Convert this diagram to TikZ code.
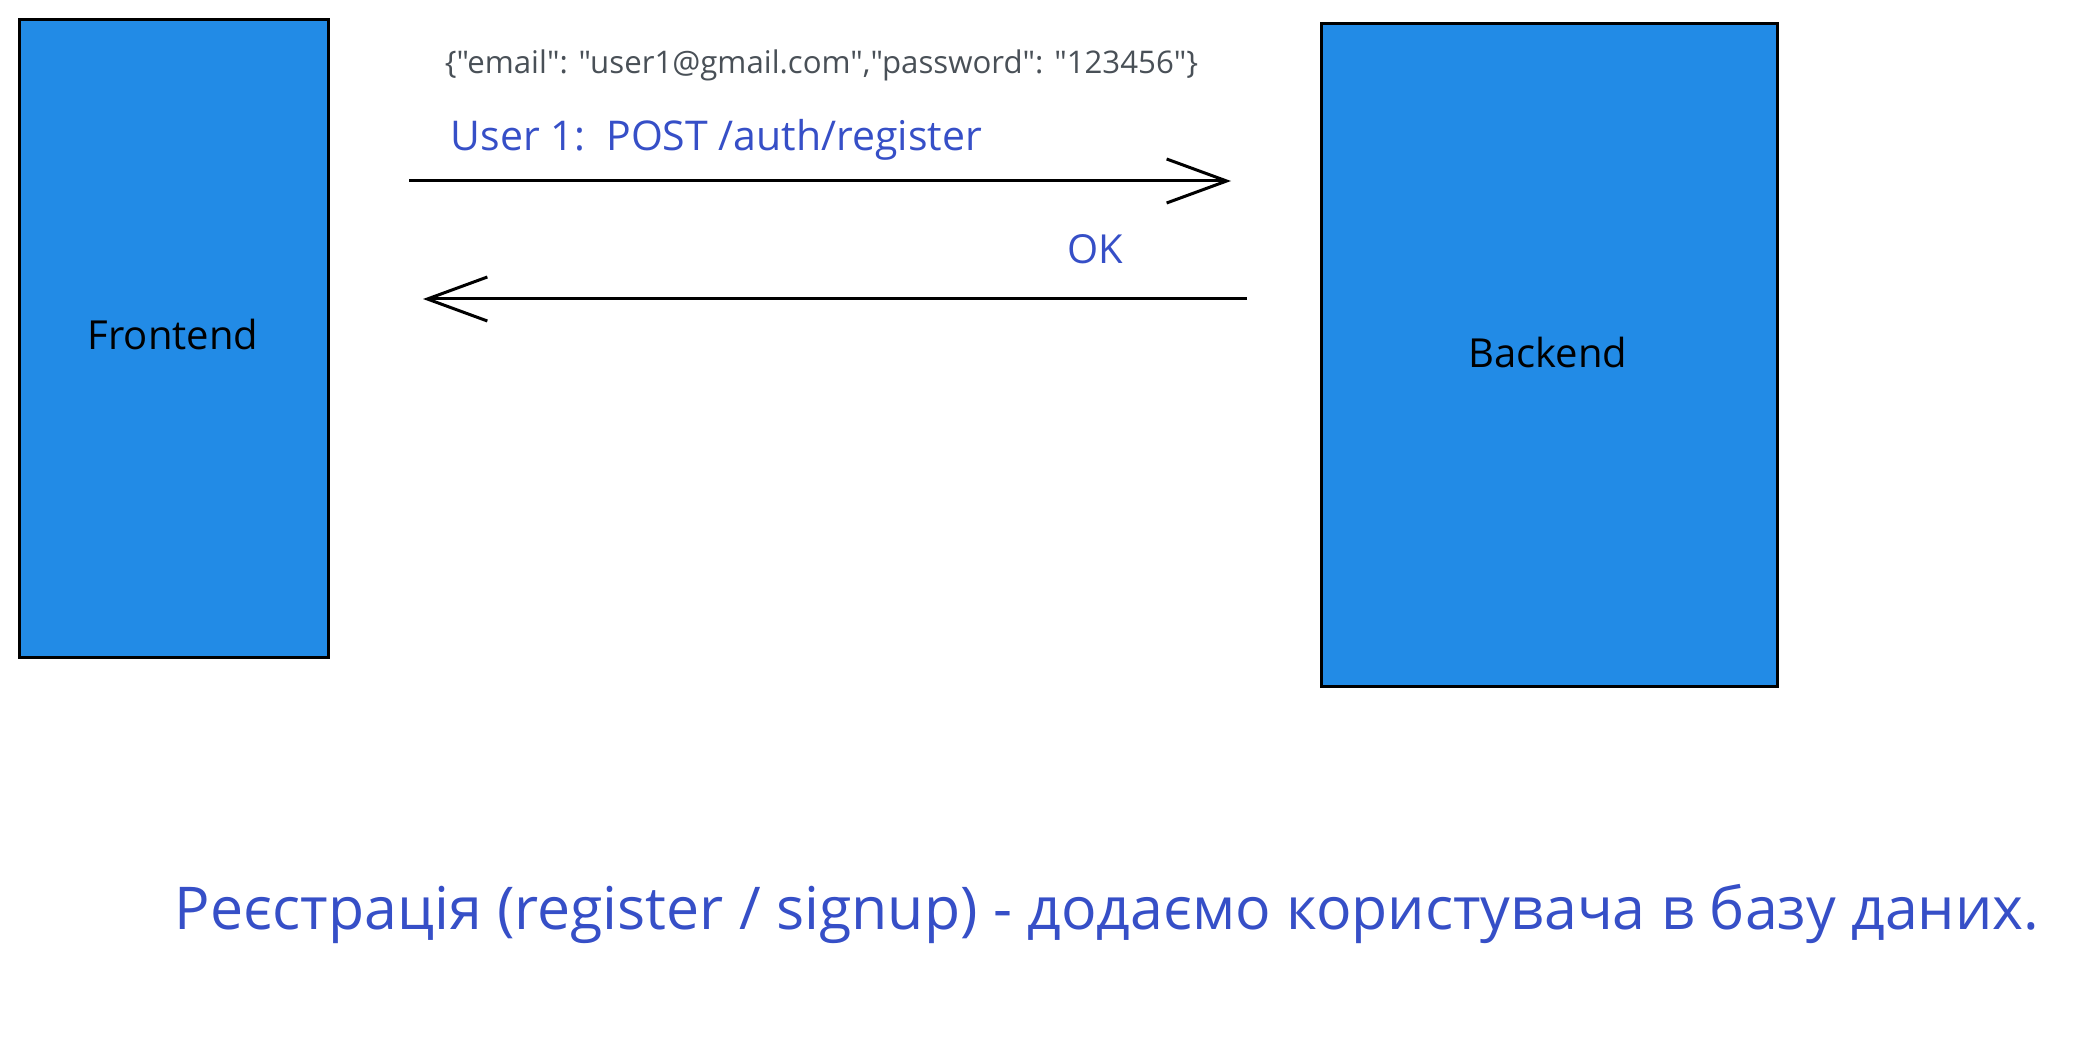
\documentclass[tikz,border=0pt]{standalone}
\usepackage{fontspec}
\setmainfont{Open Sans}
\newfontfamily\jsonfont{Open Sans}[Ligatures=TeXOff]
\usetikzlibrary{arrows.meta}

\definecolor{boxblue}{RGB}{34,139,230}
\definecolor{labelblue}{RGB}{54,79,199}
\definecolor{jsongrey}{RGB}{73,80,87}

\tikzset{
  side/.style={draw=black, line width=1.5pt, fill=boxblue, inner sep=0pt},
  msg/.style={line width=1.5pt, -{Straight Barb[length=30pt 0,width=22pt 0,line width=1.5pt]}},
}

\begin{document}
\begin{tikzpicture}[x=0.5pt,y=0.5pt,yscale=-1,xscale=1]
		\useasboundingbox (0,0) rectangle (2084,1043);
		% sides
		\draw [side] (19,20) rectangle (328,657) ;
		\draw [side] (1321,24) rectangle (1777,686) ;
		\node (front) at (173,335) [font=\fontsize{20}{24}\selectfont] {Frontend};
		\node (back) at (1548,352) [font=\fontsize{20}{24}\selectfont] {Backend};
		% request
		\coordinate (reqA) at (409,181) ;
		\coordinate (reqB) at (1231,181) ;
		\draw [msg] (reqA) -- (reqB) ;
		\node (body) at (443,65) [anchor=west, inner sep=0.75pt, text=jsongrey, font=\jsonfont\fontsize{15.6}{19}\selectfont] {\{"email": "user1@gmail.com","password": "123456"\}};
		\node (route) at (449,140) [anchor=west, inner sep=0.75pt, text=labelblue, font=\fontsize{20.5}{24}\selectfont] {User 1:\ \ POST /auth/register};
		% response
		\coordinate (resA) at (1247,299) ;
		\coordinate (resB) at (423,299) ;
		\draw [msg] (resA) -- (resB) ;
		\node (ok) at (1095,249) [text=labelblue, font=\fontsize{20}{24}\selectfont] {OK};
		% caption
		\node (note) at (173,914) [anchor=west, inner sep=0.75pt, text=labelblue, font=\fontsize{29.5}{36}\selectfont] {Реєстрація (register / signup) - додаємо користувача в базу даних.};
\end{tikzpicture}
\end{document}
